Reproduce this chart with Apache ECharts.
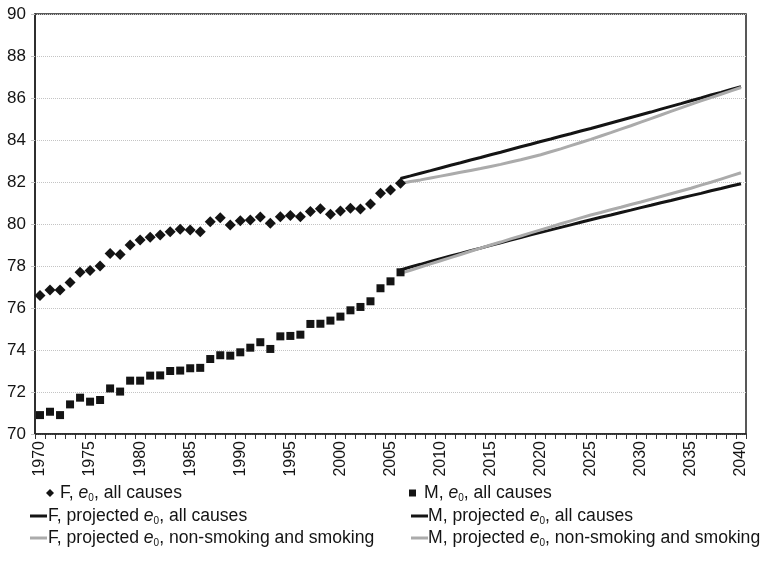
<!DOCTYPE html>
<html>
<head>
<meta charset="utf-8">
<script src="https://cdn.jsdelivr.net/npm/echarts@6/dist/echarts.min.js"></script>
<style>
  html, body { margin: 0; padding: 0; background: #fff; }
  #chart { width: 763px; height: 575px; }
</style>
</head>
<body>
<div id="chart"></div>
<script>
// Years on the horizontal axis (observed 1970-2006, projections to 2040)
const years = [
  '1970','1971','1972','1973','1974','1975','1976','1977','1978','1979',
  '1980','1981','1982','1983','1984','1985','1986','1987','1988','1989',
  '1990','1991','1992','1993','1994','1995','1996','1997','1998','1999',
  '2000','2001','2002','2003','2004','2005','2006','2007','2008','2009',
  '2010','2011','2012','2013','2014','2015','2016','2017','2018','2019',
  '2020','2021','2022','2023','2024','2025','2026','2027','2028','2029',
  '2030','2031','2032','2033','2034','2035','2036','2037','2038','2039',
  '2040'
];

// Observed life expectancy at birth, 1970-2006
const femaleObserved = [
  76.59, 76.86, 76.86, 77.22, 77.70, 77.78, 78.00, 78.60, 78.55, 79.00,
  79.24, 79.37, 79.48, 79.63, 79.75, 79.71, 79.63, 80.11, 80.30, 79.95,
  80.16, 80.19, 80.33, 80.03, 80.35, 80.41, 80.35, 80.59, 80.73, 80.46,
  80.62, 80.75, 80.71, 80.95, 81.46, 81.62, 81.94
];
const maleObserved = [
  70.90, 71.06, 70.90, 71.41, 71.73, 71.54, 71.62, 72.17, 72.02, 72.54,
  72.54, 72.78, 72.79, 73.00, 73.02, 73.13, 73.15, 73.57, 73.75, 73.73,
  73.89, 74.11, 74.37, 74.05, 74.65, 74.67, 74.73, 75.24, 75.25, 75.40,
  75.59, 75.89, 76.05, 76.32, 76.94, 77.27, 77.70
];

// Projections, 2006-2040
const projectionStart = '2006';
const femaleProjAll = [
  82.17, 82.29, 82.42, 82.54, 82.67, 82.80, 82.92, 83.05, 83.17, 83.30,
  83.42, 83.55, 83.68, 83.80, 83.93, 84.05, 84.18, 84.30, 84.43, 84.55,
  84.68, 84.81, 84.94, 85.07, 85.20, 85.33, 85.47, 85.60, 85.73, 85.87,
  86.00, 86.14, 86.27, 86.41, 86.54
];
const maleProjAll = [
  77.81, 77.95, 78.08, 78.22, 78.35, 78.48, 78.60, 78.73, 78.85, 78.98,
  79.10, 79.23, 79.35, 79.48, 79.60, 79.72, 79.84, 79.96, 80.08, 80.20,
  80.32, 80.43, 80.55, 80.66, 80.78, 80.89, 81.01, 81.12, 81.24, 81.35,
  81.46, 81.58, 81.69, 81.81, 81.92
];
const femaleProjSmoking = [
  81.93, 82.02, 82.10, 82.19, 82.28, 82.37, 82.46, 82.55, 82.64, 82.74,
  82.84, 82.95, 83.06, 83.18, 83.30, 83.44, 83.58, 83.73, 83.88, 84.03,
  84.19, 84.35, 84.52, 84.68, 84.85, 85.02, 85.19, 85.36, 85.53, 85.70,
  85.86, 86.02, 86.18, 86.34, 86.50
];
const maleProjSmoking = [
  77.65, 77.80, 77.95, 78.10, 78.25, 78.40, 78.55, 78.70, 78.85, 79.00,
  79.14, 79.29, 79.43, 79.58, 79.72, 79.86, 80.01, 80.15, 80.29, 80.43,
  80.55, 80.68, 80.80, 80.93, 81.05, 81.18, 81.31, 81.44, 81.57, 81.70,
  81.85, 81.99, 82.14, 82.29, 82.44
];

// Legend labels: [sex, description]
const names = {
  fObs: ['F', 'all causes'],
  mObs: ['M', 'all causes'],
  fAll: ['F', 'projected', 'all causes'],
  mAll: ['M', 'projected', 'all causes'],
  fSmk: ['F', 'projected', 'non-smoking and smoking'],
  mSmk: ['M', 'projected', 'non-smoking and smoking']
};

const FONT = 'Liberation Sans, Arial, sans-serif';
const INK = '#141414';
const GREY = '#ababab';

function seriesName(key) {
  const p = names[key];
  return p.length === 2 ? `${p[0]}, e0, ${p[1]}` : `${p[0]}, ${p[1]} e0, ${p[2]}`;
}
function richLabel(key) {
  const p = names[key];
  if (p.length === 2) return `{t|${p[0]}, }{i|e}{s|0}{t|, ${p[1]}}`;
  return `{t|${p[0]}, ${p[1]} }{i|e}{s|0}{t|, ${p[2]}}`;
}
const keyByName = {};
Object.keys(names).forEach(k => { keyByName[seriesName(k)] = k; });

// Pad a projection so it lines up with the year categories
function alignProjection(values) {
  const offset = years.indexOf(projectionStart);
  return new Array(offset).fill(null).concat(values);
}

const legendRich = {
  t: { fontFamily: FONT, fontSize: 17.6, color: INK, lineHeight: 20, verticalAlign: 'middle' },
  i: { fontFamily: FONT, fontSize: 17.6, color: INK, fontStyle: 'italic', lineHeight: 20, verticalAlign: 'middle' },
  s: { fontFamily: FONT, fontSize: 10, color: INK, lineHeight: 21, verticalAlign: 'bottom' }
};
function makeLegend(key, left, top, w, h, padLeft, icon) {
  const item = { name: seriesName(key) };
  if (icon) item.icon = icon;
  return {
    data: [item],
    left: left,
    top: top,
    orient: 'horizontal',
    padding: 0,
    itemWidth: w,
    itemHeight: h,
    selectedMode: false,
    formatter: name => richLabel(keyByName[name]),
    textStyle: { fontFamily: FONT, color: INK, padding: [0, 0, 0, padLeft], rich: legendRich }
  };
}

const chart = echarts.init(document.getElementById('chart'), null, { renderer: 'canvas' });

chart.setOption({
  animation: false,
  backgroundColor: '#ffffff',
  grid: {
    left: 35, right: 17, top: 14, bottom: 141,
    show: true, borderColor: '#222', borderWidth: 1.5, backgroundColor: 'transparent'
  },
  xAxis: {
    type: 'category',
    data: years,
    boundaryGap: true,
    axisLine: { lineStyle: { color: '#222', width: 1.5 } },
    axisTick: { show: true, interval: 0, length: 5, lineStyle: { color: '#333', width: 1 } },
    axisLabel: {
      interval: 4, rotate: 90, margin: 7,
      fontFamily: FONT, fontSize: 16, color: INK
    },
    splitLine: { show: false }
  },
  yAxis: {
    type: 'value',
    min: 70, max: 90, interval: 2,
    axisLine: { show: true, lineStyle: { color: '#222', width: 1.5 } },
    axisTick: { show: true, length: 4, lineStyle: { color: '#c4c4c4', width: 1 } },
    axisLabel: { margin: 9, fontFamily: FONT, fontSize: 17, color: INK },
    splitLine: { show: true, lineStyle: { color: '#c4c4c4', width: 1, type: 'dotted' } }
  },
  legend: [
    makeLegend('fObs', 46, 484, 8, 8, 1),
    makeLegend('fAll', 30, 507, 17, 3, -4, 'rect'),
    makeLegend('fSmk', 30, 529, 17, 3, -4, 'rect'),
    makeLegend('mObs', 409, 484, 7, 7, 3),
    makeLegend('mAll', 411, 507, 17, 3, -5, 'rect'),
    makeLegend('mSmk', 411, 529, 17, 3, -5, 'rect')
  ],
  series: [
    {
      name: seriesName('fObs'), type: 'scatter',
      symbol: 'diamond', symbolSize: 11,
      itemStyle: { color: INK, opacity: 1 },
      data: femaleObserved, z: 3
    },
    {
      name: seriesName('mObs'), type: 'scatter',
      symbol: 'rect', symbolSize: 8,
      itemStyle: { color: INK, opacity: 1 },
      data: maleObserved, z: 3
    },
    {
      name: seriesName('fAll'), type: 'line', symbol: 'none',
      lineStyle: { color: INK, width: 3 }, itemStyle: { color: INK },
      data: alignProjection(femaleProjAll), z: 2
    },
    {
      name: seriesName('mAll'), type: 'line', symbol: 'none',
      lineStyle: { color: INK, width: 3 }, itemStyle: { color: INK },
      data: alignProjection(maleProjAll), z: 2
    },
    {
      name: seriesName('fSmk'), type: 'line', symbol: 'none',
      lineStyle: { color: GREY, width: 3 }, itemStyle: { color: GREY },
      data: alignProjection(femaleProjSmoking), z: 2
    },
    {
      name: seriesName('mSmk'), type: 'line', symbol: 'none',
      lineStyle: { color: GREY, width: 3 }, itemStyle: { color: GREY },
      data: alignProjection(maleProjSmoking), z: 2
    }
  ]
});
</script>
</body>
</html>
